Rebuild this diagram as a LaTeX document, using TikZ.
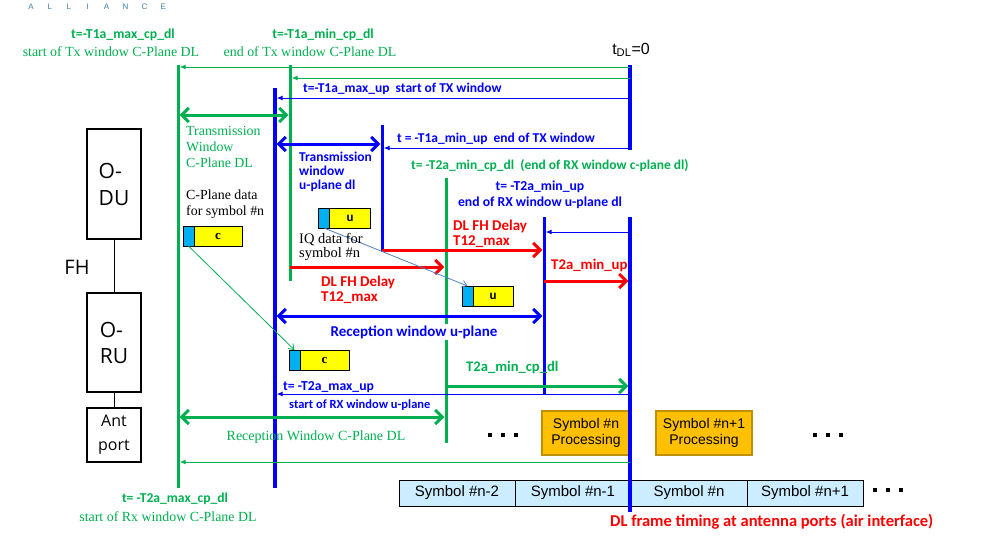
\documentclass[tikz,border=0pt]{standalone}
\usepackage{fontspec}
\setmainfont{Liberation Serif}
\newfontfamily\calib{Carlito}
\newfontfamily\arial{Liberation Sans}
\newfontfamily\segoe{Open Sans}
\usetikzlibrary{arrows.meta,positioning}

\definecolor{orgreen}{HTML}{00B050}
\definecolor{orblue}{HTML}{0000FF}
\definecolor{orred}{HTML}{FF0000}
\definecolor{pktcyan}{HTML}{00B0F0}
\definecolor{pktyellow}{HTML}{FFFF00}
\definecolor{procfill}{HTML}{FFC000}
\definecolor{procedge}{HTML}{BF9000}
\definecolor{symfill}{HTML}{CCECFF}
\definecolor{steel}{HTML}{4F81BD}
\definecolor{logo}{HTML}{3F7FA6}

\tikzset{
  tline/.style={line width=3pt},
  thinarr/.style={line width=1pt, -{Latex[length=6pt,width=5pt]}, shorten >=1.7pt},
  fatarr/.style={line width=3pt, -{Straight Barb[length=7pt,width=14pt]}, shorten >=1.7pt},
  fatdbl/.style={line width=3pt,
    {Straight Barb[length=7pt,width=14pt]}-{Straight Barb[length=7pt,width=14pt]},
    shorten >=1.7pt, shorten <=1.7pt},
  calibold/.style 2 args={inner sep=0pt, font=\calib\bfseries\fontsize{#1}{#2}\selectfont},
  romtext/.style 2 args={inner sep=0pt, font=\fontsize{#1}{#2}\selectfont},
  unitbox/.style={draw, line width=1.5pt, minimum width=54pt, inner sep=0pt},
  hdr/.style={draw, line width=0.8pt, fill=pktcyan, minimum width=11pt,
    minimum height=20pt, inner sep=0pt, outer sep=0pt},
  pay/.style={draw, line width=0.8pt, fill=pktyellow, minimum height=20pt,
    inner sep=0pt, outer sep=0pt},
  procbox/.style={draw=procedge, line width=2pt, fill=procfill, align=center,
    font=\arial\fontsize{14}{16}\selectfont, minimum height=44pt, inner sep=0pt},
  symcell/.style={draw, line width=1pt, fill=symfill, minimum width=116pt,
    minimum height=26pt, inner sep=0pt, outer sep=0pt,
    font=\arial\fontsize{15}{16}\selectfont},
}

\begin{document}
\begin{tikzpicture}[x=1pt, y=-1pt]
  \useasboundingbox (0,0) rectangle (996,550);

  % Logo remnant
  \foreach \ch [count=\i from 0] in {A,L,L,I,A,N,C,E}
    \node[font=\arial\fontsize{8}{8}\selectfont, text=logo, inner sep=0pt]
      at (31+\i*18.9, 7) {\ch};

  % O-DU / O-RU / antenna
  \node[unitbox, minimum height=110pt, align=left,
        font=\segoe\fontsize{21}{27}\selectfont] (odu) at (114,184) {O-\\DU};
  \node[unitbox, minimum height=99pt, align=left,
        font=\segoe\fontsize{21}{26}\selectfont] (oru) at (114,342.5) {O-\\RU};
  \node[unitbox, minimum height=54pt, align=center,
        font=\segoe\fontsize{16}{24}\selectfont] (ant) at (114,435) {Ant\\port};
  \draw[line width=1pt] (odu) -- (oru);
  \draw[line width=1pt] (oru) -- (ant);
  \node[font=\segoe\fontsize{20}{20}\selectfont, inner sep=0pt] (fh) at (77,267) {FH};

  % Symbol processing
  \node[procbox, minimum width=88pt] (procn) at (586,433) {Symbol \#n\\Processing};
  \node[procbox, minimum width=96pt] (procm) at (704,433) {Symbol \#n+1\\Processing};

  % Air interface symbols
  \node[symcell] (symA) at (457,493) {Symbol \#n-2};
  \node[symcell, right=0pt of symA] (symB) {Symbol \#n-1};
  \node[symcell, right=0pt of symB] (symC) {Symbol \#n};
  \node[symcell, right=0pt of symC] (symD) {Symbol \#n+1};

  % Dots
  \foreach \x/\y in {490/435, 503/435, 516/435, 815/435, 828/435, 841/435,
                     875/490, 888/490, 901/490}
    \fill (\x-2,\y-2) rectangle (\x+2,\y+2);

  % C-plane timing lines
  \draw[tline, orgreen] (178,65) -- (178,488);
  \draw[tline, orgreen] (290,65) -- (290,281);
  \draw[tline, orgreen] (446,178) -- (446,443);

  % U-plane timing lines
  \draw[tline, orblue, line width=3.5pt] (275,88) -- (275,488);
  \draw[tline, orblue] (382,125) -- (382,251.5);
  \draw[tline, orblue] (544,217) -- (544,395);
  \draw[tline, orblue, line width=3.5pt] (630,65) -- (630,150);
  \draw[tline, orblue, line width=3.5pt] (630,217) -- (630,512);

  % Offsets from t_DL=0
  \draw[thinarr, orgreen] (630,67) -- (178,67);
  \draw[thinarr, orgreen] (630,78) -- (290,78);
  \draw[thinarr, orblue] (630,98) -- (275,98);
  \draw[thinarr, orblue] (630,148) -- (382,148);
  \draw[thinarr, orblue] (630,232) -- (544,232);
  \draw[thinarr, orblue] (630,394) -- (275,394);
  \draw[thinarr, orgreen] (630,462) -- (178,462);

  % Windows and delays
  \draw[fatdbl, orgreen] (178,115) -- (290,115);
  \draw[fatdbl, orblue] (275,144) -- (382,144);
  \draw[fatarr, orred] (382,250) -- (544,250);
  \draw[fatarr, orred] (290,267) -- (446,267);
  \draw[fatarr, orred] (544,281) -- (630,281);
  \draw[fatdbl, orblue] (275,316) -- (544,316);
  \draw[fatarr, orgreen] (446,386) -- (630,386);
  \draw[fatdbl, orgreen] (178,417) -- (446,417);

  % Packets
  \node[hdr] (c1h) at (188.5,236) {};
  \node[pay, minimum width=48pt, right=0pt of c1h,
        font=\bfseries\fontsize{13}{13}\selectfont] (c1) {c};
  \node[hdr] (u1h) at (324,218) {};
  \node[pay, minimum width=41pt, right=0pt of u1h,
        font=\calib\bfseries\fontsize{13}{13}\selectfont] (u1) {u};
  \node[hdr] (u2h) at (467.5,296) {};
  \node[pay, minimum width=40pt, right=0pt of u2h,
        font=\calib\bfseries\fontsize{13}{13}\selectfont] (u2) {u};
  \node[hdr] (c2h) at (294.5,360) {};
  \node[pay, minimum width=49pt, right=0pt of c2h,
        font=\bfseries\fontsize{13}{13}\selectfont] (c2) {c};
  \draw[orgreen, line width=0.8pt, -{Straight Barb[length=5pt,width=7pt]}]
    (c1h.south) -- (c2h.north);
  \draw[steel, line width=0.8pt, -{Straight Barb[length=5pt,width=7pt]}]
    (u1h.south) -- (u2h.north);

  % Top labels
  \node[calibold={13.7}{14}, text=orgreen] at (123,35) {t=-T1a\_max\_cp\_dl};
  \node[romtext={13.9}{16}, text=orgreen] at (111,52) {start of Tx window C-Plane DL};
  \node[calibold={13.7}{14}, text=orgreen] at (323,35) {t=-T1a\_min\_cp\_dl};
  \node[romtext={13.9}{16}, text=orgreen] at (310,52) {end of Tx window C-Plane DL};
  \node[font=\arial\fontsize{16}{16}\selectfont, inner sep=0pt] at (631,50)
    {t\textsubscript{DL}=0};

  % Transmission labels
  \node[calibold={13.5}{14}, text=orblue, anchor=west] at (303,89)
    {t=-T1a\_max\_up\ \ start of TX window};
  \node[calibold={13.5}{14}, text=orblue, anchor=west] at (397,139)
    {t = -T1a\_min\_up\ \ end of TX window};
  \node[calibold={13.5}{14}, text=orblue, anchor=west, align=left] at (299,172)
    {Transmission\\window\\u-plane dl};
  \node[romtext={13.9}{16}, text=orgreen, anchor=west, align=left] at (186,147)
    {Transmission\\Window\\C-Plane DL};
  \node[romtext={13.9}{16}, anchor=west, align=left] at (186,204)
    {C-Plane data\\for symbol \#n};
  \node[romtext={14.5}{14.5}, anchor=west, align=left] at (299,247)
    {IQ data for\\symbol \#n};

  % Reception labels
  \node[calibold={13.5}{14}, text=orgreen, anchor=west] at (411,166)
    {t= -T2a\_min\_cp\_dl\ \ (end of RX window c-plane dl)};
  \node[calibold={13.7}{16}, text=orblue, align=center] at (540,195)
    {t= -T2a\_min\_up\\end of RX window u-plane dl};
  \node[calibold={15}{15}, text=orred, anchor=west, align=left] at (453,234)
    {DL FH Delay\\T12\_max};
  \node[calibold={15}{15}, text=orred, anchor=west, align=left] at (321,290)
    {DL FH Delay\\T12\_max};
  \node[calibold={14.8}{14}, text=orred, anchor=west] at (551,265) {T2a\_min\_up};
  \node[calibold={15}{14}, text=orblue, fill=white, inner sep=2pt] at (414,332)
    {Reception window u-plane};
  \node[calibold={14.6}{14}, text=orgreen, anchor=west] at (466,368) {T2a\_min\_cp\_dl};
  \node[calibold={13.7}{14}, text=orblue, anchor=west] at (283,387) {t= -T2a\_max\_up};
  \node[calibold={12.5}{12}, text=orblue, anchor=west] at (289,405)
    {start of RX window u-plane};
  \node[romtext={14}{16}, text=orgreen] at (316,437) {Reception Window C-Plane DL};

  % Bottom labels
  \node[calibold={13.6}{14}, text=orgreen] at (175,499) {t= -T2a\_max\_cp\_dl};
  \node[romtext={13.9}{16}, text=orgreen] at (168,517) {start of Rx window C-Plane DL};
  \node[calibold={16.5}{14}, text=orred, anchor=west] at (610,522)
    {DL frame timing at antenna ports (air interface)};
\end{tikzpicture}
\end{document}
